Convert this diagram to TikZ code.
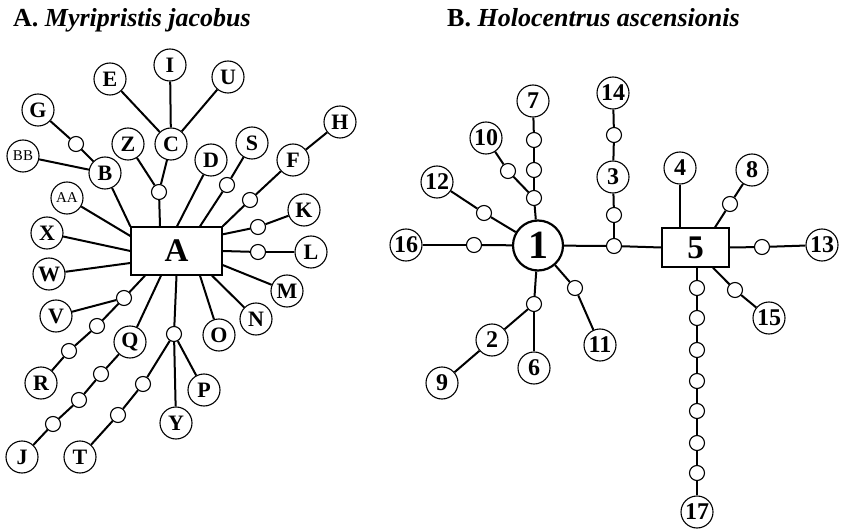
\documentclass[tikz,border=0pt]{standalone}
\usepackage{fontspec}
\setmainfont{Liberation Serif}
\begin{document}
\begin{tikzpicture}[x=1pt,y=-1pt,
  lt/.style={circle,draw,line width=1.1pt,minimum size=32pt,inner sep=0pt,fill=white,font=\bfseries\fontsize{22}{22}\selectfont},
  nt/.style={lt,font=\bfseries\fontsize{24}{24}\selectfont},
  lts/.style={lt,font=\fontsize{15}{15}\selectfont},
  sm/.style={circle,draw,line width=1.1pt,minimum size=15pt,inner sep=0pt,fill=white},
  bx/.style={draw,line width=1.3pt,inner sep=0pt,fill=white,font=\bfseries\fontsize{33}{33}\selectfont},
  big/.style={circle,draw,line width=2.2pt,minimum size=50pt,inner sep=0pt,fill=white,font=\bfseries\fontsize{40}{40}\selectfont},
  ed/.style={line width=2pt},
  ttl/.style={anchor=base west,inner sep=0pt,font=\bfseries\fontsize{26}{26}\selectfont}]
\useasboundingbox (0,0) rectangle (847,532);
% titles
\node[ttl] (tA) at (13,27) {A. \textit{Myripristis jacobus}};
\node[ttl] (tB) at (447,27) {B. \textit{Holocentrus ascensionis}};
% ---------- Panel A ----------
\node[bx,minimum width=91pt,minimum height=48pt] (A) at (176.5,251) {A};
\node[lt] (E) at (110,79) {E};
\node[lt] (I) at (170,65) {I};
\node[lt] (U) at (228,77) {U};
\node[lt] (G) at (38,110) {G};
\node[lt] (Z) at (128,144) {Z};
\node[lt] (C) at (171,144) {C};
\node[lt] (D) at (211,160) {D};
\node[lt] (S) at (252,143) {S};
\node[lt] (H) at (340,122) {H};
\node[lt] (F) at (293,160) {F};
\node[lts] (BB) at (23,156) {BB};
\node[lt] (B) at (105,173) {B};
\node[lts] (AA) at (67,198) {AA};
\node[lt] (K) at (304,210) {K};
\node[lt] (X) at (47,233) {X};
\node[lt] (L) at (311,252) {L};
\node[lt] (W) at (49,274) {W};
\node[lt] (M) at (287,291) {M};
\node[lt] (V) at (56,316) {V};
\node[lt] (N) at (256,319) {N};
\node[lt] (O) at (219,335) {O};
\node[lt] (Q) at (130,342) {Q};
\node[lt] (R) at (41,383) {R};
\node[lt] (P) at (204,390) {P};
\node[lt] (Y) at (176,423) {Y};
\node[lt] (J) at (22,457) {J};
\node[lt] (T) at (80,457) {T};
\node[sm] (sGB) at (76,144) {};
\node[sm] (sZC) at (159,192) {};
\node[sm] (sS) at (227,185) {};
\node[sm] (sF) at (250,200) {};
\node[sm] (sK) at (258,227) {};
\node[sm] (sL) at (258,252) {};
\node[sm] (sV) at (124,298) {};
\node[sm] (sR1) at (97,326) {};
\node[sm] (sR2) at (69,351) {};
\node[sm] (sQ1) at (101,374) {};
\node[sm] (sQ2) at (79,400) {};
\node[sm] (sQ3) at (53,424) {};
\node[sm] (sY) at (174,334) {};
\node[sm] (sT1) at (143,384) {};
\node[sm] (sT2) at (118,415) {};
\begin{scope}[ed]
\draw (E) -- (C); \draw (I) -- (C); \draw (U) -- (C);
\draw (C) -- (sZC); \draw (Z) -- (sZC); \draw (sZC) -- ([xshift=-16.5pt]A.north);
\draw (G) -- (sGB); \draw (sGB) -- (B); \draw (BB) -- (B); \draw (B) -- (A.north west);
\draw (AA) -- ([yshift=15pt]A.west); \draw (X) -- (A.west); \draw (W) -- ([yshift=-12pt]A.west);
\draw (D) -- ([xshift=0.5pt]A.north);
\draw (S) -- (sS); \draw (sS) -- ([xshift=23.5pt]A.north);
\draw (H) -- (F); \draw (F) -- (sF); \draw (sF) -- (A.north east);
\draw (K) -- (sK); \draw (sK) -- ([yshift=-8pt]A.north east);
\draw (L) -- (sL); \draw (sL) -- (A.east);
\draw (M) -- ([yshift=-14pt]A.east);
\draw (N) -- ([xshift=35.5pt]A.south);
\draw (O) -- ([xshift=23.5pt]A.south);
\draw (sY) -- (A.south); \draw (sY) -- (Y); \draw (sY) -- (P);
\draw (sY) -- (sT1); \draw (sT1) -- (sT2); \draw (sT2) -- (T);
\draw (Q) -- ([xshift=-15.5pt]A.south);
\draw (Q) -- (sQ1); \draw (sQ1) -- (sQ2); \draw (sQ2) -- (sQ3); \draw (sQ3) -- (J);
\draw (sV) -- ([xshift=-31.5pt]A.south); \draw (V) -- (sV);
\draw (sV) -- (sR1); \draw (sR1) -- (sR2); \draw (sR2) -- (R);
\end{scope}
% ---------- Panel B ----------
\node[big] (n1) at (538,245.5) {1};
\node[bx,minimum width=67pt,minimum height=39pt] (n5) at (695.5,247.5) {5};
\node[nt] (n7) at (533,101) {7};
\node[nt] (n10) at (486,138) {10};
\node[nt] (n12) at (437,182) {12};
\node[nt] (n16) at (406,245) {16};
\node[nt] (n14) at (613,93) {14};
\node[nt] (n3) at (613,177) {3};
\node[nt] (n4) at (680,168) {4};
\node[nt] (n8) at (752,170) {8};
\node[nt] (n13) at (822,245) {13};
\node[nt] (n15) at (769,318) {15};
\node[nt] (n17) at (697,512) {17};
\node[nt] (n2) at (492,340) {2};
\node[nt] (n9) at (442,383) {9};
\node[nt] (n6) at (534,368) {6};
\node[nt] (n11) at (600,345) {11};
\node[sm] (s7a) at (534,140) {};
\node[sm] (s7b) at (534,170) {};
\node[sm] (s7c) at (534,198) {};
\node[sm] (s10) at (508,171) {};
\node[sm] (s12) at (484,213) {};
\node[sm] (s16) at (474,245) {};
\node[sm] (s14) at (614,135) {};
\node[sm] (s3) at (614,215) {};
\node[sm] (sJ) at (614,246) {};
\node[sm] (s8) at (730,204) {};
\node[sm] (s13) at (762,247) {};
\node[sm] (s15) at (735,290) {};
\node[sm] (c1) at (697,288) {};
\node[sm] (c2) at (697,318) {};
\node[sm] (c3) at (697,350) {};
\node[sm] (c4) at (697,381) {};
\node[sm] (c5) at (697,411) {};
\node[sm] (c6) at (697,443) {};
\node[sm] (c7) at (697,473) {};
\node[sm] (sB) at (534,304) {};
\node[sm] (s11) at (575,288) {};
\begin{scope}[ed]
\draw (n7) -- (s7a); \draw (s7a) -- (s7b); \draw (s7b) -- (s7c); \draw (s7c) -- (n1);
\draw (n10) -- (s10); \draw (s10) -- (s7c);
\draw (n12) -- (s12); \draw (s12) -- (n1);
\draw (n16) -- (s16); \draw (s16) -- (n1);
\draw (n14) -- (s14); \draw (s14) -- (n3); \draw (n3) -- (s3); \draw (s3) -- (sJ);
\draw (n1) -- (sJ); \draw (sJ) -- (n5.west);
\draw (n4) -- ([xshift=-15.5pt]n5.north);
\draw (n8) -- (s8); \draw (s8) -- ([xshift=19.5pt]n5.north);
\draw (n5.east) -- (s13); \draw (s13) -- (n13);
\draw ([xshift=17.5pt]n5.south) -- (s15); \draw (s15) -- (n15);
\draw ([xshift=1.5pt]n5.south) -- (c1); \draw (c1) -- (c2); \draw (c2) -- (c3); \draw (c3) -- (c4);
\draw (c4) -- (c5); \draw (c5) -- (c6); \draw (c6) -- (c7); \draw (c7) -- (n17);
\draw (n1) -- (sB); \draw (sB) -- (n2); \draw (n2) -- (n9); \draw (sB) -- (n6);
\draw (n1) -- (s11); \draw (s11) -- (n11);
\end{scope}
\end{tikzpicture}
\end{document}
